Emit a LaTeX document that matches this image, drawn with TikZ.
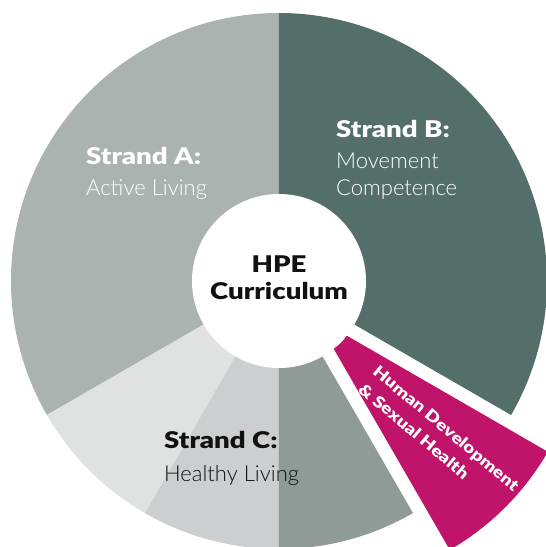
\documentclass[tikz,border=0pt]{standalone}
\usepackage{fontspec}
\newfontfamily\heavyfont{Lato Black}[FakeStretch=1.2]
\newfontfamily\lightfont{Lato Light}
\definecolor{strandA}{HTML}{ABB3B1}
\definecolor{strandB}{HTML}{546F69}
\definecolor{strandCa}{HTML}{E0E2E1}
\definecolor{strandCb}{HTML}{CBCFCF}
\definecolor{strandCc}{HTML}{8F9B97}
\definecolor{hdsh}{HTML}{C0136A}
\definecolor{ink}{HTML}{111111}

\begin{document}
\begin{tikzpicture}[x=1pt, y=1pt,
		title/.style={font=\heavyfont\fontsize{23}{27}\selectfont, anchor=base west, inner sep=0pt},
		sub/.style={font=\lightfont\fontsize{22}{26}\selectfont, anchor=base west, inner sep=0pt}
	]
	\useasboundingbox (-279,-266) rectangle (267,281);

	% strands
	\fill[strandA] (0,0) -- (90:268) arc[start angle=90, end angle=210, radius=268] -- cycle;
	\fill[strandB] (0,0) -- (-30:268) arc[start angle=-30, end angle=90, radius=268] -- cycle;
	\foreach \a/\c in {210/strandCa, 240/strandCb, 270/strandCc}{
		\fill[\c] (0,0) -- (\a:268) arc[start angle=\a, end angle=\a+30, radius=268] -- cycle;
	}
	\begin{scope}[shift={(-45:52)}]
		\fill[hdsh] (-30:35.5) -- (-30:268) arc[start angle=-30, end angle=-60, radius=268]
			-- (-60:35.5) arc[start angle=-60, end angle=-30, radius=35.5] -- cycle;
	\end{scope}

	\node[circle, fill=white, minimum size=174pt, inner sep=0pt] at (0,0) (hub) {};
	\node[font=\heavyfont\fontsize{23}{27}\selectfont, align=center, text=ink] at (0,3) (hpe) {HPE\\Curriculum};

	\node[title, text=white] at (-193,117) (strandAtitle) {Strand A:};
	\node[sub, text=white] at (-193,86) (strandAname) {Active Living};
	\node[title, text=white] at (57,144) (strandBtitle) {Strand B:};
	\node[sub, text=white] at (57,113) (strandBname) {Movement};
	\node[sub, text=white] at (57,86) (strandBname2) {Competence};
	\node[title, text=ink] at (-115,-167) (strandCtitle) {Strand C:};
	\node[sub, text=ink] at (-115,-200) (strandCname) {Healthy Living};

	\node[rotate=-40, align=left, text=white, font=\heavyfont\fontsize{16}{23}\selectfont]
		at (160,-156) (hdlabel) {Human Development\\\& Sexual Health};
\end{tikzpicture}
\end{document}
